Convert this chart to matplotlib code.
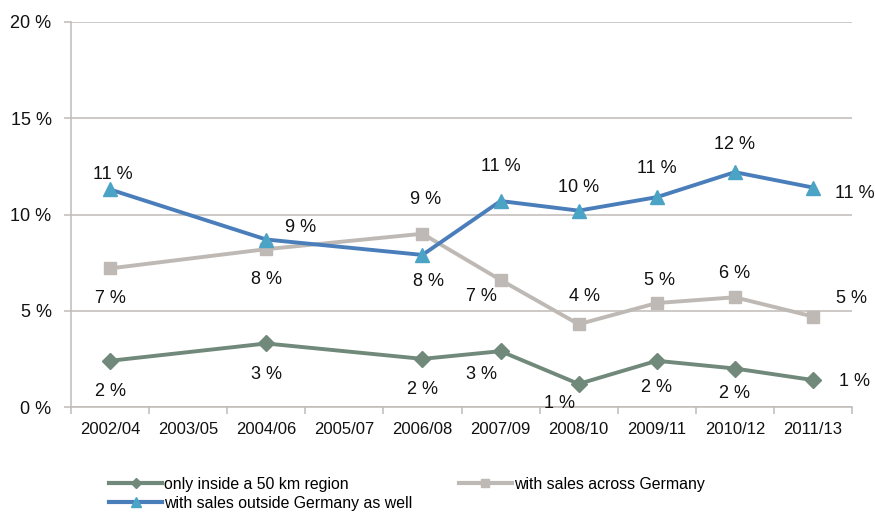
import numpy as np
import matplotlib
matplotlib.use("Agg")
import matplotlib.pyplot as plt
from matplotlib.lines import Line2D

plt.rcParams['font.family'] = ['Liberation Sans', 'DejaVu Sans']

periods = ["2002/04", "2003/05", "2004/06", "2005/07", "2006/08",
           "2007/09", "2008/10", "2009/11", "2010/12", "2011/13"]

local_50km = [2.4, None, 3.3, None, 2.5, 2.9, 1.2, 2.4, 2.0, 1.4]
across_germany = [7.2, None, 8.2, None, 9.0, 6.6, 4.3, 5.4, 5.7, 4.7]
outside_germany = [11.3, None, 8.7, None, 7.9, 10.7, 10.2, 10.9, 12.2, 11.4]

names = ["only inside a 50 km region",
         "with sales across Germany",
         "with sales outside Germany as well"]

# label offsets in points (dx, dy) for each plotted value
off_local = [(0, -22), None, (0, -22), None, (0, -22), (-14, -17), (-14, -14), (0, -19), (0, -18), (30, -1)]
off_across = [(0, -22), None, (0, -22), None, (2, 25), (-14, -12), (4, 20), (2, 16), (0, 17), (28, 13)]
off_outside = [(2, 11), None, (25, 9), None, (4, -19), (0, 25), (0, 17), (0, 21), (0, 20), (30, -4)]

line_green = "#71897A"
line_gray = "#BEB9B4"
line_blue = "#4A7EBB"
mark_blue = "#4BA3C6"
grid_col = "#BFBBB6"

fig = plt.figure(figsize=(8.75, 5.14), dpi=100)
ax = fig.add_axes([71/875, 107/514, (852-71)/875, (407-22)/514])

x_all = np.arange(len(periods))

def draw(vals, color, mcolor, marker, ms, offsets):
    xs = [i for i, v in enumerate(vals) if v is not None]
    ys = [vals[i] for i in xs]
    ax.plot(xs, ys, color=color, lw=2.8, marker=marker, ms=ms,
            mfc=mcolor, mec=mcolor, zorder=3, solid_joinstyle='round')
    for i in xs:
        dx, dy = offsets[i]
        ax.annotate(f"{round(vals[i]):.0f} %", (i, vals[i]), xytext=(dx, dy),
                    textcoords="offset points", ha="center", va="center",
                    fontsize=13, color="#111111", zorder=4)

draw(local_50km, line_green, line_green, "D", 8, off_local)
draw(across_germany, line_gray, line_gray, "s", 9, off_across)
draw(outside_germany, line_blue, mark_blue, "^", 10.5, off_outside)

ax.set_xlim(-0.5, len(periods) - 0.5)
ax.set_ylim(0, 20)
ax.set_yticks([0, 5, 10, 15, 20])
ax.set_yticklabels([f"{v} %" for v in [0, 5, 10, 15, 20]])
ax.set_xticks(x_all)
ax.set_xticklabels(periods)
ax.set_xticks(np.arange(-0.5, len(periods)), minor=True)

ax.grid(axis="y", color=grid_col, lw=1.1, zorder=0)
ax.set_axisbelow(True)
for s in ["top", "right"]:
    ax.spines[s].set_visible(False)
for s in ["left", "bottom"]:
    ax.spines[s].set_color(grid_col)
    ax.spines[s].set_linewidth(1.1)

ax.tick_params(axis="x", which="major", length=0, pad=11, labelsize=12, colors="#111111")
ax.tick_params(axis="x", which="minor", length=5, color=grid_col, width=1.1)
ax.tick_params(axis="y", length=5, color=grid_col, width=1.1, pad=9, labelsize=13, labelcolor="#111111")

handles = [
    Line2D([], [], color=line_green, lw=3, marker="D", ms=5, mfc=line_green, mec=line_green),
    Line2D([], [], color=line_blue, lw=3, marker="^", ms=7, mfc=mark_blue, mec=mark_blue),
    Line2D([], [], color=line_gray, lw=3, marker="s", ms=6, mfc=line_gray, mec=line_gray),
]
fig.legend(handles, [names[0], names[2], names[1]], ncol=2,
           loc="upper left", bbox_to_anchor=(109/875, 1 - 477/514),
           frameon=False, fontsize=11.4, handlelength=3.35, handletextpad=0.15,
           columnspacing=2.9, labelspacing=0.25, borderaxespad=0, borderpad=0)

fig.savefig("out.png", dpi=100)
